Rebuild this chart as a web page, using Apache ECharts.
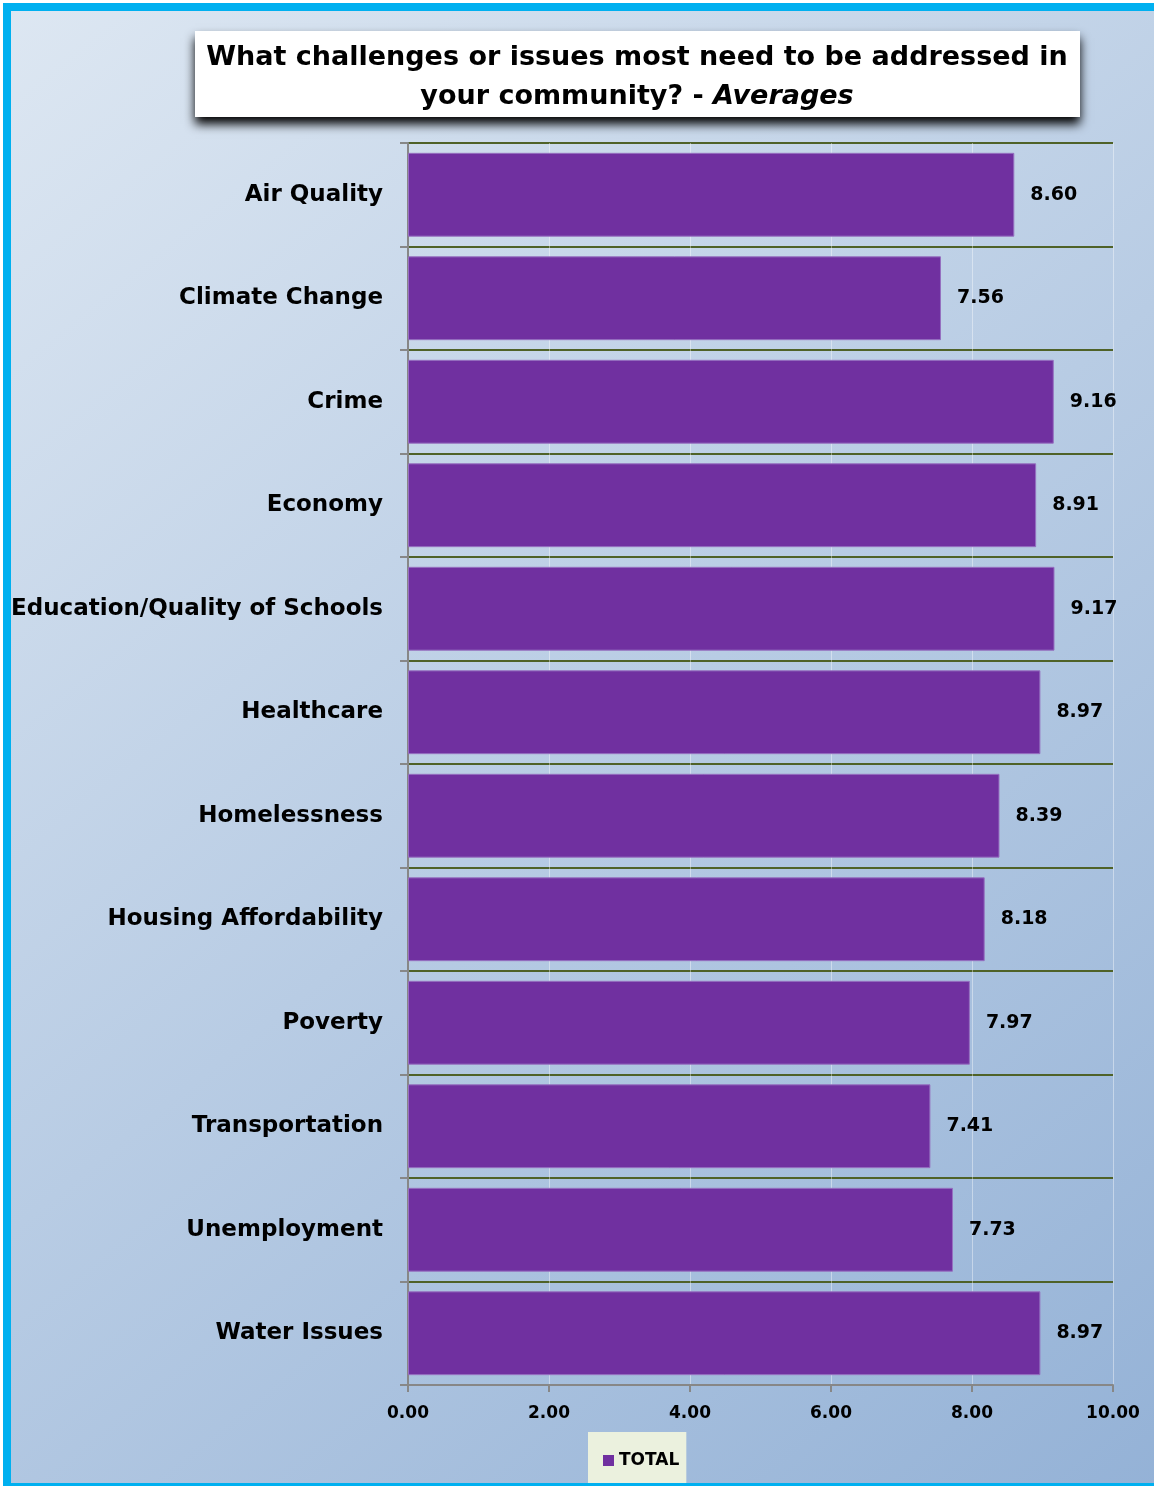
<!DOCTYPE html>
<html>
<head>
<meta charset="utf-8">
<script src="https://cdn.jsdelivr.net/npm/echarts@6/dist/echarts.min.js"></script>
<style>
html,body{margin:0;padding:0;background:#fff;}
#chart{width:1154px;height:1486px;}
</style>
</head>
<body>
<div id="chart"></div>
<script>
var categories = ['Air Quality','Climate Change','Crime','Economy','Education/Quality of Schools','Healthcare','Homelessness','Housing Affordability','Poverty','Transportation','Unemployment','Water Issues'];
var totals = [8.60, 7.56, 9.16, 8.91, 9.17, 8.97, 8.39, 8.18, 7.97, 7.41, 7.73, 8.97];
var seriesName = 'TOTAL';
var titleLine1 = 'What challenges or issues most need to be addressed in';
var titleLine2a = 'your community? - ';
var titleLine2b = 'Averages';

var FONT = '"DejaVu Sans", sans-serif';
var chart = echarts.init(document.getElementById('chart'), null, {renderer:'canvas'});
chart.setOption({
  animation:false,
  graphic:[
    {type:'rect', z:-10, silent:true, shape:{x:7,y:7,width:1200,height:1480},
     style:{fill:{type:'linear',x:0,y:0,x2:1,y2:1,colorStops:[{offset:0,color:'#DDE7F2'},{offset:1,color:'#93B1D6'}]}, stroke:null}},
    {type:'rect', z:100, silent:true, shape:{x:7,y:7,width:1200,height:1480},
     style:{fill:null, stroke:'#00B0F0', lineWidth:8}},
    {type:'rect', z:10, silent:true, shape:{x:195,y:31,width:885,height:86},
     style:{fill:'#ffffff', shadowBlur:10, shadowColor:'rgba(0,0,0,1)', shadowOffsetX:0, shadowOffsetY:7}},
    {type:'text', z:11, silent:true, x:637, y:38,
     style:{text:'{a|'+titleLine1+'}\n{a|'+titleLine2a+'}{b|'+titleLine2b+'}', align:'center',
       rich:{a:{fontFamily:FONT,fontWeight:'bold',fontSize:27,lineHeight:39,fill:'#000'},
             b:{fontFamily:FONT,fontWeight:'bold',fontStyle:'italic',fontSize:27,lineHeight:39,fill:'#000'}}}}
  ],
  legend:{
    data:[seriesName], left:588, top:1432, backgroundColor:'#EBF1DE', padding:[20,7,20,15],
    itemWidth:11, itemHeight:11, icon:'rect', itemGap:5, itemStyle:{borderWidth:0},
    textStyle:{fontFamily:FONT,fontWeight:'bold',fontSize:17,color:'#000'}
  },
  grid:{left:408,right:41,top:143,bottom:101,containLabel:false},
  xAxis:{
    type:'value', min:0, max:10, interval:2,
    axisLine:{show:true,lineStyle:{color:'#878787',width:2}},
    axisTick:{show:true,length:7,lineStyle:{color:'#878787',width:2}},
    axisLabel:{formatter:function(v){return v.toFixed(2);},fontFamily:FONT,fontWeight:'bold',fontSize:17,color:'#000',margin:20},
    splitLine:{show:true,lineStyle:{color:'rgba(255,255,255,0.4)',width:1}}
  },
  yAxis:{
    type:'category', data:categories, inverse:true,
    axisLine:{show:true,lineStyle:{color:'#878787',width:2}},
    axisTick:{show:true,length:8,lineStyle:{color:'#878787',width:2}},
    axisLabel:{fontFamily:FONT,fontWeight:'bold',fontSize:23,color:'#000',margin:25,padding:[5,0,0,0]},
    splitLine:{show:true,lineStyle:{color:'#4F6228',width:2}}
  },
  series:[{
    name:seriesName, type:'bar', data:totals, barCategoryGap:'19%',
    itemStyle:{color:'#7030A0',borderColor:'#9670C0',borderWidth:1},
    label:{show:true,position:'right',distance:16,formatter:function(p){return p.value.toFixed(2);},
      fontFamily:FONT,fontWeight:'bold',fontSize:19,color:'#000',padding:[8,0,0,0]}
  }]
});
</script>
</body>
</html>
